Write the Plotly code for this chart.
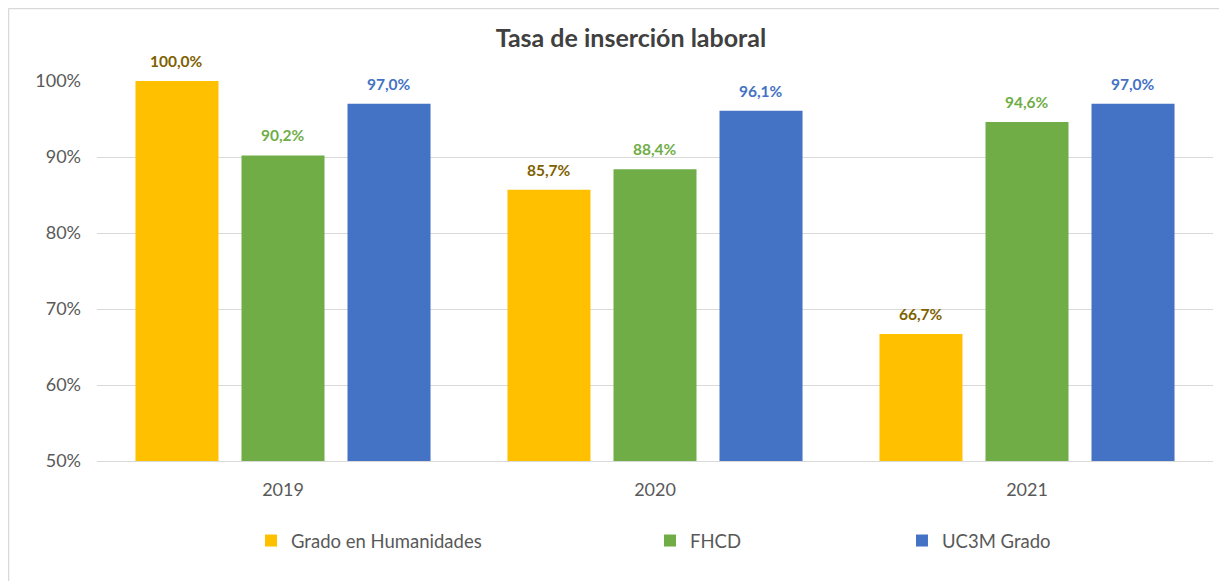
import plotly.graph_objects as go

years = ["2019", "2020", "2021"]
grado_humanidades = [100.0, 85.7, 66.7]
fhcd = [90.2, 88.4, 94.6]
uc3m_grado = [97.0, 96.1, 97.0]
y_ticks = [50, 60, 70, 80, 90, 100]
y_tick_labels = ["50%", "60%", "70%", "80%", "90%", "100%"]

series = [
    ("Grado en Humanidades", grado_humanidades, "#FFC000", "#7F6000", "legend", 0.138),
    ("FHCD", fhcd, "#70AD47", "#70AD47", "legend2", 0.4955),
    ("UC3M Grado", uc3m_grado, "#4472C4", "#4472C4", "legend3", 0.7213),
]

FONT = "Lato"
BARGAP = 0.145
GROUPGAP = 0.217
W, H = 1219, 573
ML, MR, MT, MB = 89, 14, 73, 120
fig = go.Figure()
annotations = []
plot_w = W - ML - MR
slot = plot_w / len(years) * (1 - BARGAP) / len(series)
for i, (name, vals, col, tcol, leg, lx) in enumerate(series):
    fig.add_trace(go.Bar(
        x=years, y=vals, name=name, legend=leg,
        marker=dict(color=col, line=dict(width=0)),
    ))
    for j, v in enumerate(vals):
        # x = category index of years[j] on the category axis
        annotations.append(dict(
            x=j, y=v, xref="x", yref="y", text=f"{v:.1f}%".replace(".", ","),
            showarrow=False, yanchor="bottom", xanchor="center",
            xshift=(i - 1) * slot, yshift=9,
            font=dict(family=FONT, size=15.5, color=tcol, weight="bold"),
        ))

legend_common = dict(orientation="h", y=-0.2105, yanchor="middle", xanchor="left",
                     font=dict(family=FONT, size=18.5, color="#595959"),
                     bgcolor="rgba(0,0,0,0)", itemwidth=30)
legs = {}
for name, vals, col, tcol, leg, lx in series:
    legs[leg] = dict(legend_common, x=lx)

border = dict(color="#D9D9D9", width=1.5)
fig.update_layout(
    width=W, height=H,
    paper_bgcolor="white", plot_bgcolor="white",
    margin=dict(l=ML, r=MR, t=MT, b=MB),
    barmode="group", bargap=BARGAP, bargroupgap=GROUPGAP,
    showlegend=True,
    title=dict(text="<b>Tasa de inserción laboral</b>", x=0.511, xanchor="center",
               y=0.9476, yanchor="middle",
               font=dict(family=FONT, size=25, color="#404040")),
    font=dict(family=FONT, color="#595959"),
    xaxis=dict(type="category", range=[-0.5, len(years) - 0.5],
               showline=True, linecolor="#D9D9D9", linewidth=1,
               automargin=False,
               tickfont=dict(family=FONT, size=18, color="#595959"), ticks="",
               ticklabelstandoff=12),
    yaxis=dict(range=[50, 100], tickvals=y_ticks, ticktext=y_tick_labels,
               showgrid=True, gridcolor="#D9D9D9", gridwidth=1, zeroline=False,
               automargin=False,
               tickfont=dict(family=FONT, size=18, color="#595959"), ticks="",
               ticklabelstandoff=15),
    annotations=annotations,
    shapes=[
        dict(type="line", xref="paper", yref="paper",
             x0=-0.0793, x1=1.1, y0=1.1908, y1=1.1908, line=border, layer="below"),
        dict(type="line", xref="paper", yref="paper",
             x0=-0.0793, x1=-0.0793, y0=-0.4, y1=1.1908, line=border, layer="below"),
    ],
    **legs,
)

fig.write_html("out.html")
